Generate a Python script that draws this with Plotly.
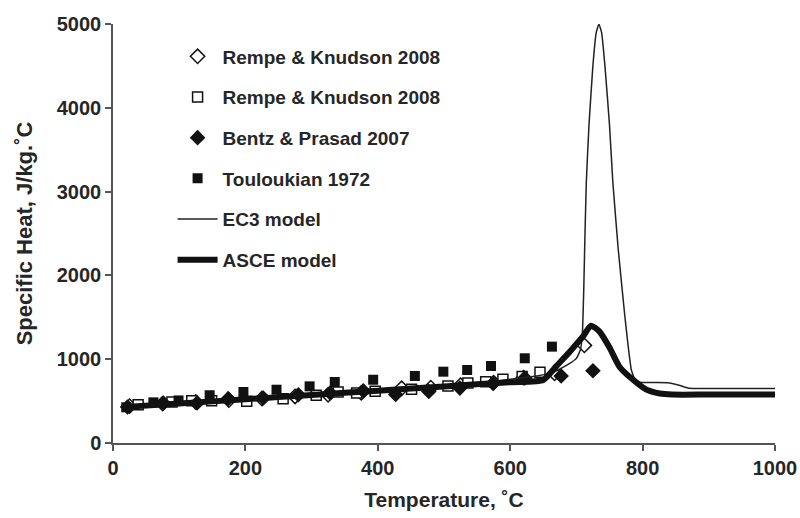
import plotly.graph_objects as go

# ---- data ----
rk1_T = [25, 75, 125, 175, 225, 275, 325, 375, 436, 480, 525, 575, 620, 667, 712]
rk1_cp = [440, 470, 490, 512, 532, 555, 575, 598, 653, 660, 690, 720, 780, 832, 1165]

rk2_T = [38, 89, 119, 149, 202, 257, 307, 340, 368, 396, 451, 506, 536, 563, 589, 618, 645]
rk2_cp = [457, 489, 505, 505, 498, 529, 569, 609, 597, 617, 641, 680, 715, 731, 760, 795, 845]

bp_T = [22, 76, 127, 174, 227, 280, 328, 378, 427, 477, 524, 574, 622, 677, 725]
bp_cp = [430, 477, 477, 529, 537, 576, 597, 624, 578, 615, 655, 712, 775, 800, 863]

tk_T = [20, 61, 99, 146, 197, 247, 297, 335, 393, 456, 499, 535, 571, 622, 663]
tk_cp = [426, 485, 508, 570, 609, 636, 676, 728, 755, 800, 851, 871, 919, 1011, 1150]

ec3_T = [20, 100, 200, 300, 400, 500, 550, 600, 640, 667, 690, 700, 706, 709, 711, 713,
         715, 719, 725, 730, 734, 738, 743, 750, 755, 763, 773, 778, 783, 790, 800, 838,
         855, 871, 900, 1000]
ec3_cp = [440, 488, 530, 565, 606, 666, 708, 760, 799, 849, 950, 1010, 1110, 1300, 1800, 2500,
          3118, 3795, 4510, 4900, 5000, 4900, 4510, 3795, 3118, 2327, 1527, 1169, 871, 732, 722, 720,
          690, 652, 650, 650]

asce_T = [20, 100, 200, 300, 400, 500, 600, 650, 670, 690, 710, 722, 735, 750, 765, 783, 805,
          826, 845, 900, 1000]
asce_cp = [431, 471, 522, 573, 624, 675, 726, 752, 920, 1090, 1271, 1400, 1330, 1140, 911, 772, 640,
           590, 578, 578, 578]

names = ["Rempe & Knudson 2008", "Rempe & Knudson 2008", "Bentz & Prasad 2007",
         "Touloukian 1972", "EC3 model", "ASCE model"]

x_ticks = [0, 200, 400, 600, 800, 1000]
y_ticks = [0, 1000, 2000, 3000, 4000, 5000]

FONT = "Liberation Sans, Arial, sans-serif"
TXT = "#262626"

fig = go.Figure()

fig.add_trace(go.Scatter(x=rk1_T, y=rk1_cp, mode="markers", name=names[0], legendgroup="a",
                         marker=dict(symbol="diamond", size=11, color="white",
                                     line=dict(color="#111", width=1.5))))
fig.add_trace(go.Scatter(x=rk2_T, y=rk2_cp, mode="markers", name=names[1], legendgroup="b",
                         marker=dict(symbol="square", size=10, color="white",
                                     line=dict(color="#111", width=1.5))))
fig.add_trace(go.Scatter(x=bp_T, y=bp_cp, mode="markers", name=names[2], legendgroup="c",
                         marker=dict(symbol="diamond", size=12, color="#111",
                                     line=dict(color="#111", width=0))))
fig.add_trace(go.Scatter(x=tk_T, y=tk_cp, mode="markers", name=names[3], legendgroup="d",
                         marker=dict(symbol="square", size=10, color="#111",
                                     line=dict(color="#111", width=0))))
fig.add_trace(go.Scatter(x=ec3_T, y=ec3_cp, mode="lines", name=names[4], legendgroup="e",
                         line=dict(color="#222", width=1.5, shape="spline", smoothing=0.35)))
fig.add_trace(go.Scatter(x=asce_T, y=asce_cp, mode="lines", name=names[5], legendgroup="f",
                         line=dict(color="#111", width=6, shape="spline", smoothing=0.6)))

fig.update_layout(
    width=800, height=518,
    margin=dict(l=113, r=25, t=24, b=75),
    paper_bgcolor="white", plot_bgcolor="white",
    font=dict(family=FONT, size=19, color=TXT, weight="bold"),
    showlegend=True,
    legend=dict(x=0.09, y=0.968, xanchor="left", yanchor="top",
                bgcolor="rgba(0,0,0,0)", font=dict(size=19, color=TXT, weight="bold"),
                traceorder="grouped", tracegroupgap=13, itemwidth=40),
)
fig.update_xaxes(range=[0, 1000], tickvals=x_ticks, ticktext=[str(v) for v in x_ticks],
                 showgrid=False, zeroline=False, showline=True, linecolor="#555", linewidth=1.5,
                 ticks="outside", ticklen=6, tickcolor="#555", tickwidth=1.5, automargin=False,
                 tickfont=dict(size=20, color=TXT, weight="bold"),
                 title=dict(text="Temperature, ˚C", font=dict(size=21, color=TXT, weight="bold"),
                            standoff=15))
fig.update_yaxes(range=[0, 5000], tickvals=y_ticks, ticktext=[str(v) for v in y_ticks],
                 showgrid=False, zeroline=False, showline=True, linecolor="#555", linewidth=1.5,
                 ticks="outside", ticklen=6, tickcolor="#555", tickwidth=1.5, automargin=False,
                 tickfont=dict(size=20, color=TXT, weight="bold"),
                 title=dict(text="Specific Heat, J/kg.˚C", font=dict(size=22, color=TXT, weight="bold"),
                            standoff=18))

fig.write_html("out.html")
